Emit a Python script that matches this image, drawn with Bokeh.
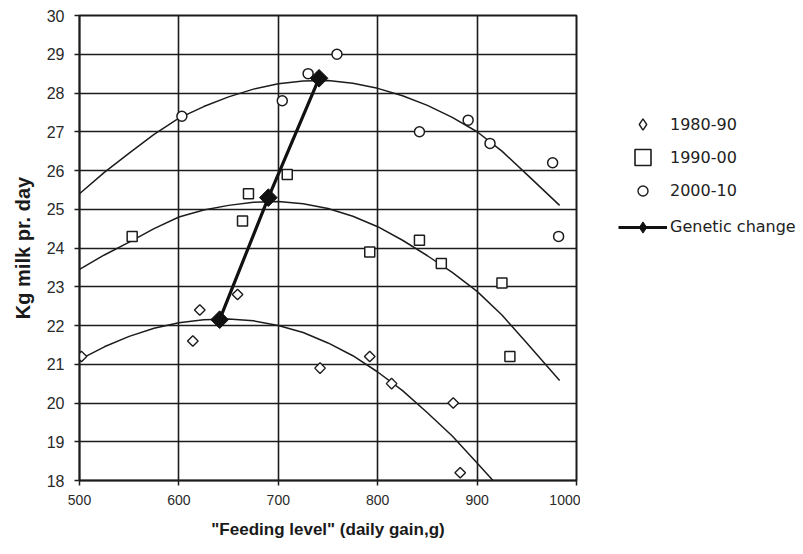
import math
from bokeh.plotting import figure
from bokeh.layouts import row
from bokeh.models import Range1d, FixedTicker, Legend, LegendItem, ColumnDataSource
from bokeh.embed import file_html
from bokeh.resources import INLINE

# ---- data ----
x_8090 = [502, 614, 621, 659, 742, 792, 814, 876, 883]
y_8090 = [21.2, 21.6, 22.4, 22.8, 20.9, 21.2, 20.5, 20.0, 18.2]
x_9000 = [553, 664, 670, 709, 792, 842, 864, 925, 933]
y_9000 = [24.3, 24.7, 25.4, 25.9, 23.9, 24.2, 23.6, 23.1, 21.2]
x_0010 = [603, 704, 730, 759, 842, 891, 913, 976, 982]
y_0010 = [27.4, 27.8, 28.5, 29.0, 27.0, 27.3, 26.7, 26.2, 24.3]
gen_x = [641, 690, 741]
gen_y = [22.15, 25.3, 28.38]

# trend curves
tr_8090_x = [500, 525, 550, 575, 600, 625, 650, 675, 700, 725, 750, 775, 800, 825, 850, 875, 900, 916]
tr_8090_y = [21.12, 21.45, 21.72, 21.93, 22.07, 22.15, 22.17, 22.12, 22.0, 21.82, 21.55, 21.22, 20.8, 20.32, 19.75, 19.15, 18.45, 18.0]
tr_9000_x = [500, 525, 550, 575, 600, 625, 650, 675, 700, 725, 750, 775, 800, 825, 850, 875, 900, 925, 950, 983]
tr_9000_y = [23.45, 23.82, 24.15, 24.5, 24.8, 24.98, 25.1, 25.18, 25.2, 25.14, 25.02, 24.82, 24.55, 24.2, 23.8, 23.37, 22.88, 22.27, 21.55, 20.58]
tr_0010_x = [500, 525, 550, 575, 600, 625, 650, 675, 700, 725, 750, 775, 800, 825, 850, 875, 900, 925, 950, 983]
tr_0010_y = [25.4, 25.95, 26.45, 26.93, 27.35, 27.65, 27.9, 28.1, 28.24, 28.31, 28.32, 28.25, 28.12, 27.93, 27.68, 27.37, 27.0, 26.5, 25.9, 25.1]

x_ticks = [500, 600, 700, 800, 900, 1000]
y_ticks = list(range(18, 31))

labels = ["1980-90", "1990-00", "2000-10", "Genetic change"]

INK = "#1c1c1c"

p = figure(width=580, height=546, output_backend="svg", toolbar_location=None,
           x_range=Range1d(500, 1000), y_range=Range1d(18, 30),
           min_border_left=79, min_border_right=4, min_border_top=15, min_border_bottom=66)

p.background_fill_color = "white"
p.border_fill_color = "white"
p.outline_line_color = INK
p.outline_line_width = 2

p.xaxis.ticker = FixedTicker(ticks=x_ticks)
p.yaxis.ticker = FixedTicker(ticks=y_ticks)
p.xgrid.ticker = FixedTicker(ticks=x_ticks)
p.ygrid.ticker = FixedTicker(ticks=y_ticks)
for g in (p.xgrid, p.ygrid):
    g.grid_line_color = INK
    g.grid_line_width = 1.6
    g.grid_line_alpha = 1.0

for ax in (p.xaxis, p.yaxis):
    ax.axis_line_color = INK
    ax.axis_line_width = 1.6
    ax.major_tick_line_color = INK
    ax.major_tick_line_width = 1.5
    ax.major_tick_out = 5
    ax.major_tick_in = 0
    ax.minor_tick_line_color = None
    ax.major_label_text_font = "Liberation Sans"
    ax.major_label_text_color = "#2a2a2a"
    ax.axis_label_text_font = "Liberation Sans"
    ax.axis_label_text_font_style = "bold"
    ax.axis_label_text_color = "#1a1a1a"

p.xaxis.major_label_text_font_size = "14px"
p.yaxis.major_label_text_font_size = "16px"
p.xaxis.major_label_standoff = 9
p.yaxis.major_label_standoff = 10
p.xaxis.axis_label = '"Feeding level" (daily gain,g)'
p.yaxis.axis_label = "Kg milk pr. day"
p.xaxis.axis_label_text_font_size = "17px"
p.yaxis.axis_label_text_font_size = "20px"
p.xaxis.axis_label_standoff = 12
p.yaxis.axis_label_standoff = 10

# trend curves
for tx, ty in ((tr_8090_x, tr_8090_y), (tr_9000_x, tr_9000_y), (tr_0010_x, tr_0010_y)):
    p.line(tx, ty, line_color=INK, line_width=1.5)

# data points
p.scatter(x_8090, y_8090, marker="square", angle=math.pi / 4, size=7.5,
          fill_color="white", line_color=INK, line_width=1.4)
p.scatter(x_9000, y_9000, marker="square", size=10,
          fill_color="white", line_color=INK, line_width=1.5)
p.scatter(x_0010, y_0010, marker="circle", size=10,
          fill_color="white", line_color=INK, line_width=1.5)

# genetic change
p.line(gen_x, gen_y, line_color="#111111", line_width=3.2)
p.scatter(gen_x, gen_y, marker="square", angle=math.pi / 4, size=12.5,
          fill_color="#111111", line_color="#111111")

# ---- legend panel (second figure, no axes) ----
q = figure(width=221, height=546, output_backend="svg", toolbar_location=None,
           x_range=Range1d(0, 1), y_range=Range1d(0, 1),
           x_axis_location=None, y_axis_location=None,
           min_border_left=0, min_border_right=0, min_border_top=15, min_border_bottom=66)
q.grid.visible = False
q.outline_line_color = None
q.background_fill_color = "white"
q.border_fill_color = "white"

nan = float("nan")
def blank():
    return ColumnDataSource(dict(x=[nan], y=[nan]))

lg_d = q.scatter(x="x", y="y", source=blank(), marker="diamond",
                 fill_color="white", line_color=INK, line_width=1.4)
lg_s = q.scatter(x="x", y="y", source=blank(), marker="square",
                 fill_color="white", line_color=INK, line_width=1.6)
lg_c = q.scatter(x="x", y="y", source=blank(), marker="circle",
                 fill_color="white", line_color=INK, line_width=1.4)
lg_gl = q.line(x="x", y="y", source=blank(), line_color="#111111", line_width=3)
lg_gm = q.scatter(x="x", y="y", source=blank(), marker="diamond",
                  fill_color="#111111", line_color="#111111")

rend = [[lg_d], [lg_s], [lg_c], [lg_gl, lg_gm]]
gh = [28, 40, 25, 28]
centers = [356, 322.7, 289.3, 253.3]  # from bottom of legend frame
for lab, rr, h, c in zip(labels, rend, gh, centers):
    lg = Legend(items=[LegendItem(label=lab, renderers=rr)],
                location=(38, c - h / 2),
                glyph_width=49, glyph_height=h, label_height=h,
                label_standoff=3, padding=0, margin=0, spacing=0,
                border_line_color=None, background_fill_alpha=0,
                label_text_font="DejaVu Sans", label_text_font_size="16px",
                label_text_color="#222222")
    q.add_layout(lg, "center")

layout = row(p, q, spacing=0)
open("out.html", "w").write(file_html(layout, INLINE))
